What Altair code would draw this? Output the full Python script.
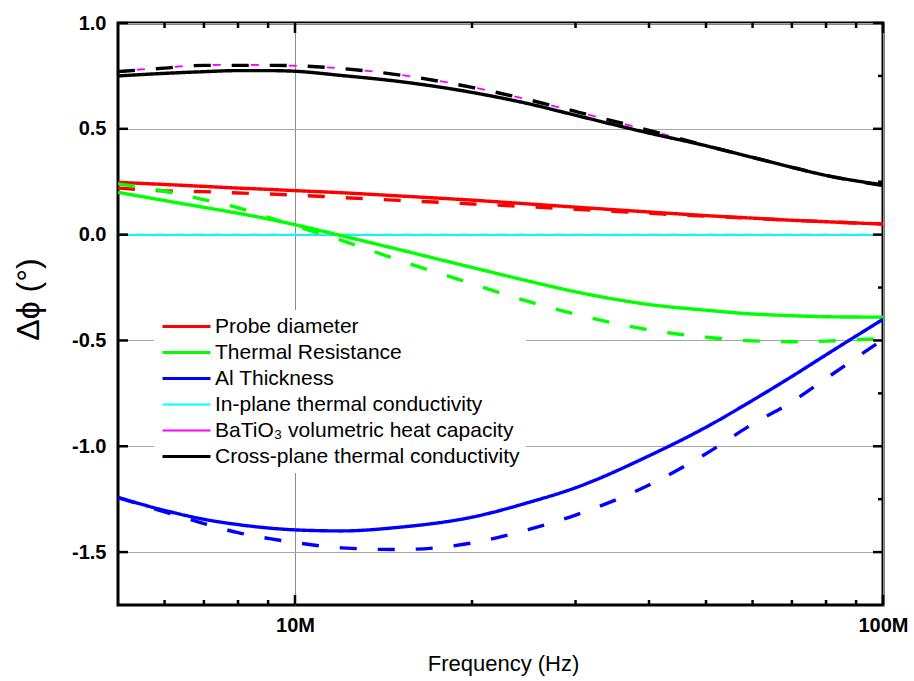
import altair as alt
import pandas as pd

# ---------------- data ----------------
freq_mhz = [5, 6, 7, 8, 9, 10, 12, 15, 20, 25, 30, 40, 50, 60, 70, 80, 100]

probe_solid = [0.247, 0.237, 0.228, 0.220, 0.214, 0.208, 0.198, 0.183, 0.163, 0.145, 0.130, 0.107, 0.090, 0.078, 0.068, 0.061, 0.050]
probe_dash = [0.220, 0.207, 0.203, 0.197, 0.192, 0.187, 0.175, 0.162, 0.145, 0.132, 0.120, 0.101, 0.087, 0.077, 0.068, 0.061, 0.050]

resist_solid = [0.200, 0.161, 0.129, 0.101, 0.074, 0.047, -0.005, -0.070, -0.155, -0.220, -0.270, -0.330, -0.357, -0.375, -0.383, -0.388, -0.390]
resist_dash = [0.240, 0.205, 0.165, 0.127, 0.082, 0.042, -0.027, -0.120, -0.232, -0.317, -0.376, -0.450, -0.485, -0.502, -0.506, -0.503, -0.490]

al_solid = [-1.242, -1.303, -1.345, -1.370, -1.386, -1.395, -1.400, -1.383, -1.335, -1.265, -1.196, -1.045, -0.910, -0.783, -0.670, -0.568, -0.400]
al_dash = [-1.242, -1.310, -1.365, -1.408, -1.435, -1.455, -1.480, -1.488, -1.457, -1.393, -1.325, -1.183, -1.035, -0.895, -0.790, -0.680, -0.495]

inplane_solid = [0.0, 0.0, 0.0, 0.0, 0.0, 0.0, 0.0, 0.0, 0.0, 0.0, 0.0, 0.0, 0.0, 0.0, 0.0, 0.0, 0.0]
inplane_dash = [0.0, 0.0, 0.0, 0.0, 0.0, 0.0, 0.0, 0.0, 0.0, 0.0, 0.0, 0.0, 0.0, 0.0, 0.0, 0.0, 0.0]

heatcap_solid = [0.750, 0.762, 0.770, 0.775, 0.775, 0.772, 0.752, 0.724, 0.672, 0.618, 0.564, 0.480, 0.420, 0.365, 0.318, 0.280, 0.235]
heatcap_dash = [0.772, 0.789, 0.801, 0.802, 0.801, 0.798, 0.785, 0.756, 0.697, 0.637, 0.582, 0.493, 0.421, 0.366, 0.318, 0.280, 0.232]

cross_solid = [0.750, 0.762, 0.770, 0.775, 0.775, 0.772, 0.752, 0.724, 0.672, 0.618, 0.564, 0.480, 0.420, 0.365, 0.318, 0.280, 0.235]
cross_dash = [0.770, 0.787, 0.800, 0.800, 0.800, 0.798, 0.785, 0.755, 0.696, 0.637, 0.582, 0.493, 0.420, 0.365, 0.318, 0.280, 0.232]

series_names = [
    "Probe diameter",
    "Thermal Resistance",
    "Al Thickness",
    "In-plane thermal conductivity",
    "BaTiO₃ volumetric heat capacity",
    "Cross-plane thermal conductivity",
]
series_colors = ["#ff0000", "#00ff00", "#0000ff", "#00ffff", "#ff00ff", "#000000"]

x_major = [1e7, 1e8]
x_minor = [6e6, 7e6, 8e6, 9e6, 2e7, 3e7, 4e7, 5e7, 6e7, 7e7, 8e7, 9e7]
y_major = [-1.5, -1.0, -0.5, 0.0, 0.5, 1.0]
y_minor = [-1.25, -0.75, -0.25, 0.25, 0.75]

# ---------------- long tables ----------------
thin_rows, thick_rows = [], []
curves = [
    (3, inplane_solid, "solid", thin_rows),
    (3, inplane_dash, "thin", thin_rows),
    (4, heatcap_solid, "solid", thin_rows),
    (4, heatcap_dash, "thin", thin_rows),
    (0, probe_solid, "solid", thick_rows),
    (0, probe_dash, "dash", thick_rows),
    (1, resist_solid, "solid", thick_rows),
    (1, resist_dash, "dash", thick_rows),
    (2, al_solid, "solid", thick_rows),
    (2, al_dash, "dash", thick_rows),
    (5, cross_solid, "solid", thick_rows),
    (5, cross_dash, "dash", thick_rows),
]
for idx, vals, dash, rows in curves:
    for f, v in zip(freq_mhz, vals):
        rows.append({"freq": f * 1e6, "val": v, "series": series_names[idx],
                     "dash": dash, "key": series_names[idx] + "|" + dash})
thin_df = pd.DataFrame(thin_rows)
thick_df = pd.DataFrame(thick_rows)

FONT = "Liberation Sans"
W, H = 765, 582
MAJ, MIN = 10, 5

xscale = alt.Scale(type="log", domain=[5e6, 1e8], nice=False)
yscale = alt.Scale(domain=[-1.75, 1.0], nice=False, zero=False)
cscale = alt.Scale(domain=series_names, range=series_colors)
dscale = alt.Scale(domain=["solid", "dash", "thin"], range=[[1, 0], [17, 21], [8, 11]])

x_bottom = alt.Axis(
    orient="bottom", values=x_major, title="Frequency (Hz)",
    labelExpr="datum.value == 10000000 ? '10M' : '100M'",
    labelFont=FONT, labelFontSize=20, labelFontWeight="bold", labelColor="black",
    labelPadding=10, labelFlush=False, labelOverlap=False,
    titleFont=FONT, titleFontSize=22, titleFontWeight="normal", titleColor="black",
    titleX=385, titleY=58, titleBaseline="middle", titleAlign="center",
    domain=False, ticks=False, tickSize=0,
    grid=True, gridColor="#8c8c8c", gridWidth=1,
)
y_left = alt.Axis(
    orient="left", values=y_major, title="Δϕ (°)",
    labelExpr="replace(format(datum.value, '.1f'), '−', '-')",
    labelFont=FONT, labelFontSize=20, labelFontWeight="bold", labelColor="black",
    labelPadding=12, labelFlush=False, labelOverlap=False,
    titleFont=FONT, titleFontSize=32, titleFontWeight="normal", titleColor="black",
    titleX=-90, titleY=276, titleAngle=270, titleBaseline="middle", titleAlign="center",
    domain=False, ticks=False, tickSize=0,
    grid=True, gridColor="#a6a6a6", gridWidth=1,
)

legend = alt.Legend(
    title=None, orient="none", legendX=36, legendY=287,
    fillColor="white", padding=6, rowPadding=4,
    labelFont=FONT, labelFontSize=21, labelColor="black", labelLimit=500,
    labelOffset=34, symbolType="M-1,0H5", symbolSize=256,
    symbolStrokeWidth=alt.ExprRef(
        "(datum.value == 'In-plane thermal conductivity' || datum.value == 'BaTiO₃ volumetric heat capacity') ? 2 : 3.2"),
)

thin = alt.Chart(thin_df).mark_line(interpolate="monotone", clip=True).encode(
    x=alt.X("freq:Q", scale=xscale, axis=x_bottom),
    y=alt.Y("val:Q", scale=yscale, axis=y_left),
    color=alt.Color("series:N", scale=cscale, legend=legend),
    strokeDash=alt.StrokeDash("dash:N", scale=dscale, legend=None),
    strokeWidth=alt.value(1.8),
    detail="key:N",
)
thick = alt.Chart(thick_df).mark_line(interpolate="monotone", clip=True).encode(
    x=alt.X("freq:Q", scale=xscale, axis=None),
    y=alt.Y("val:Q", scale=yscale, axis=None),
    color=alt.Color("series:N", scale=cscale, legend=legend),
    strokeDash=alt.StrokeDash("dash:N", scale=dscale, legend=None),
    strokeWidth=alt.value(3.4),
    detail="key:N",
)

# inward tick marks on all four sides of the frame
def xticks(values, y0, y1):
    return alt.Chart(pd.DataFrame({"v": values})).mark_rule(
        color="black", strokeWidth=2.5, strokeCap="butt").encode(
        x=alt.X("v:Q", scale=xscale, axis=None),
        y=alt.value(y0), y2=alt.value(y1))

def yticks(values, x0, x1):
    return alt.Chart(pd.DataFrame({"v": values})).mark_rule(
        color="black", strokeWidth=2.5, strokeCap="butt").encode(
        y=alt.Y("v:Q", scale=yscale, axis=None),
        x=alt.value(x0), x2=alt.value(x1))

tick_layers = [
    xticks(x_major, H, H - MAJ), xticks(x_major, 0, MAJ),
    xticks(x_minor, H, H - MIN), xticks(x_minor, 0, MIN),
    yticks(y_major, 0, MAJ), yticks(y_major, W, W - MAJ),
    yticks(y_minor, W, W - MIN),
]

chart = alt.layer(thin, thick, *tick_layers).resolve_axis(
    x="independent", y="independent"
).properties(
    width=W, height=H,
    autosize=alt.AutoSizeParams(type="none"),
    padding={"left": 118, "top": 23, "right": 31, "bottom": 76},
    background="white",
).configure_view(stroke="black", strokeWidth=3)

chart.save("out.html", embed_options={"renderer": "svg", "actions": False})
